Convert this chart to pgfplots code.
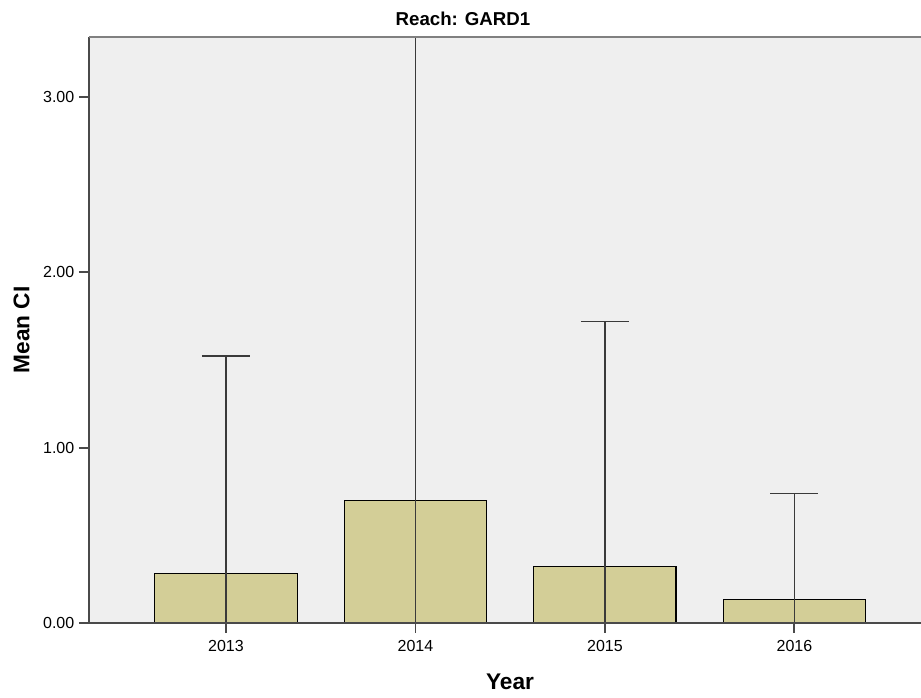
\documentclass[border=0pt]{standalone}
\usepackage{pgfplots}
\pgfplotsset{compat=1.18}
\usepackage{fontspec}
\setmainfont{Liberation Sans}
\definecolor{barfill}{HTML}{D3CE97}
\definecolor{bgc}{HTML}{EFEFEF}
\definecolor{axc}{HTML}{4A4A4A}
\definecolor{errc}{HTML}{3A3A3A}
\begin{document}
\begin{tikzpicture}
\begin{axis}[
  at={(0,0)}, anchor=south west,
  scale only axis, width=624pt, height=439.5pt,
  xmin=-0.723, xmax=3.668, ymin=0, ymax=3.342,
  clip=false,
  axis background/.style={fill=bgc},
  axis line style={draw=none},
  xtick={0,1,2,3}, xticklabels={2013,2014,2015,2016},
  ytick={0,1,2,3},
  xtick pos=bottom, ytick pos=left,
  tick align=outside,
  major tick length=7.5pt,
  major tick style={draw=axc, line width=1.4pt},
  /pgf/number format/assume math mode=true,
  yticklabel style={/pgf/number format/.cd, fixed, fixed zerofill, precision=2},
  ticklabel style={font=\fontsize{12}{14}\selectfont},
  xticklabel style={yshift=-2.25pt},
  title={Reach: GARD1},
  title style={at={(0.4495,1.0188)}, anchor=base, yshift=-6pt, font=\bfseries\fontsize{14}{16}\selectfont},
  xlabel={Year},
  xlabel style={at={(0.506,-0.1131)}, anchor=base, font=\bfseries\fontsize{17}{19}\selectfont},
  ylabel={Mean CI},
  ylabel style={at={(-0.0811,0.5)}, anchor=center, font=\bfseries\fontsize{17}{19}\selectfont},
]
\addplot[ybar, bar width=0.75, fill=barfill, draw=black, line width=0.8pt,
  error bars/.cd, y dir=both, y explicit,
  error bar style={color=errc, line width=1.1pt},
  error mark options={color=errc, line width=1.1pt, mark size=18pt, rotate=90}]
  table[x=x, y=y, y error plus=ep, y error minus=em] {
x y ep em
0 0.281 1.242 0.281
1 0.698 2.644 0.698
2 0.321 1.397 0.321
3 0.135 0.605 0.135
};
\draw[axc, line width=1.5pt] (rel axis cs:0,1) -- (rel axis cs:0,0) -- (rel axis cs:1,0);
\draw[gray, line width=1.5pt] (rel axis cs:0,1) -- (rel axis cs:1,1);
\end{axis}
\pgfresetboundingbox
\path[use as bounding box] (-66.75pt,-56.25pt) rectangle (624pt,467.25pt);
\end{tikzpicture}
\end{document}
